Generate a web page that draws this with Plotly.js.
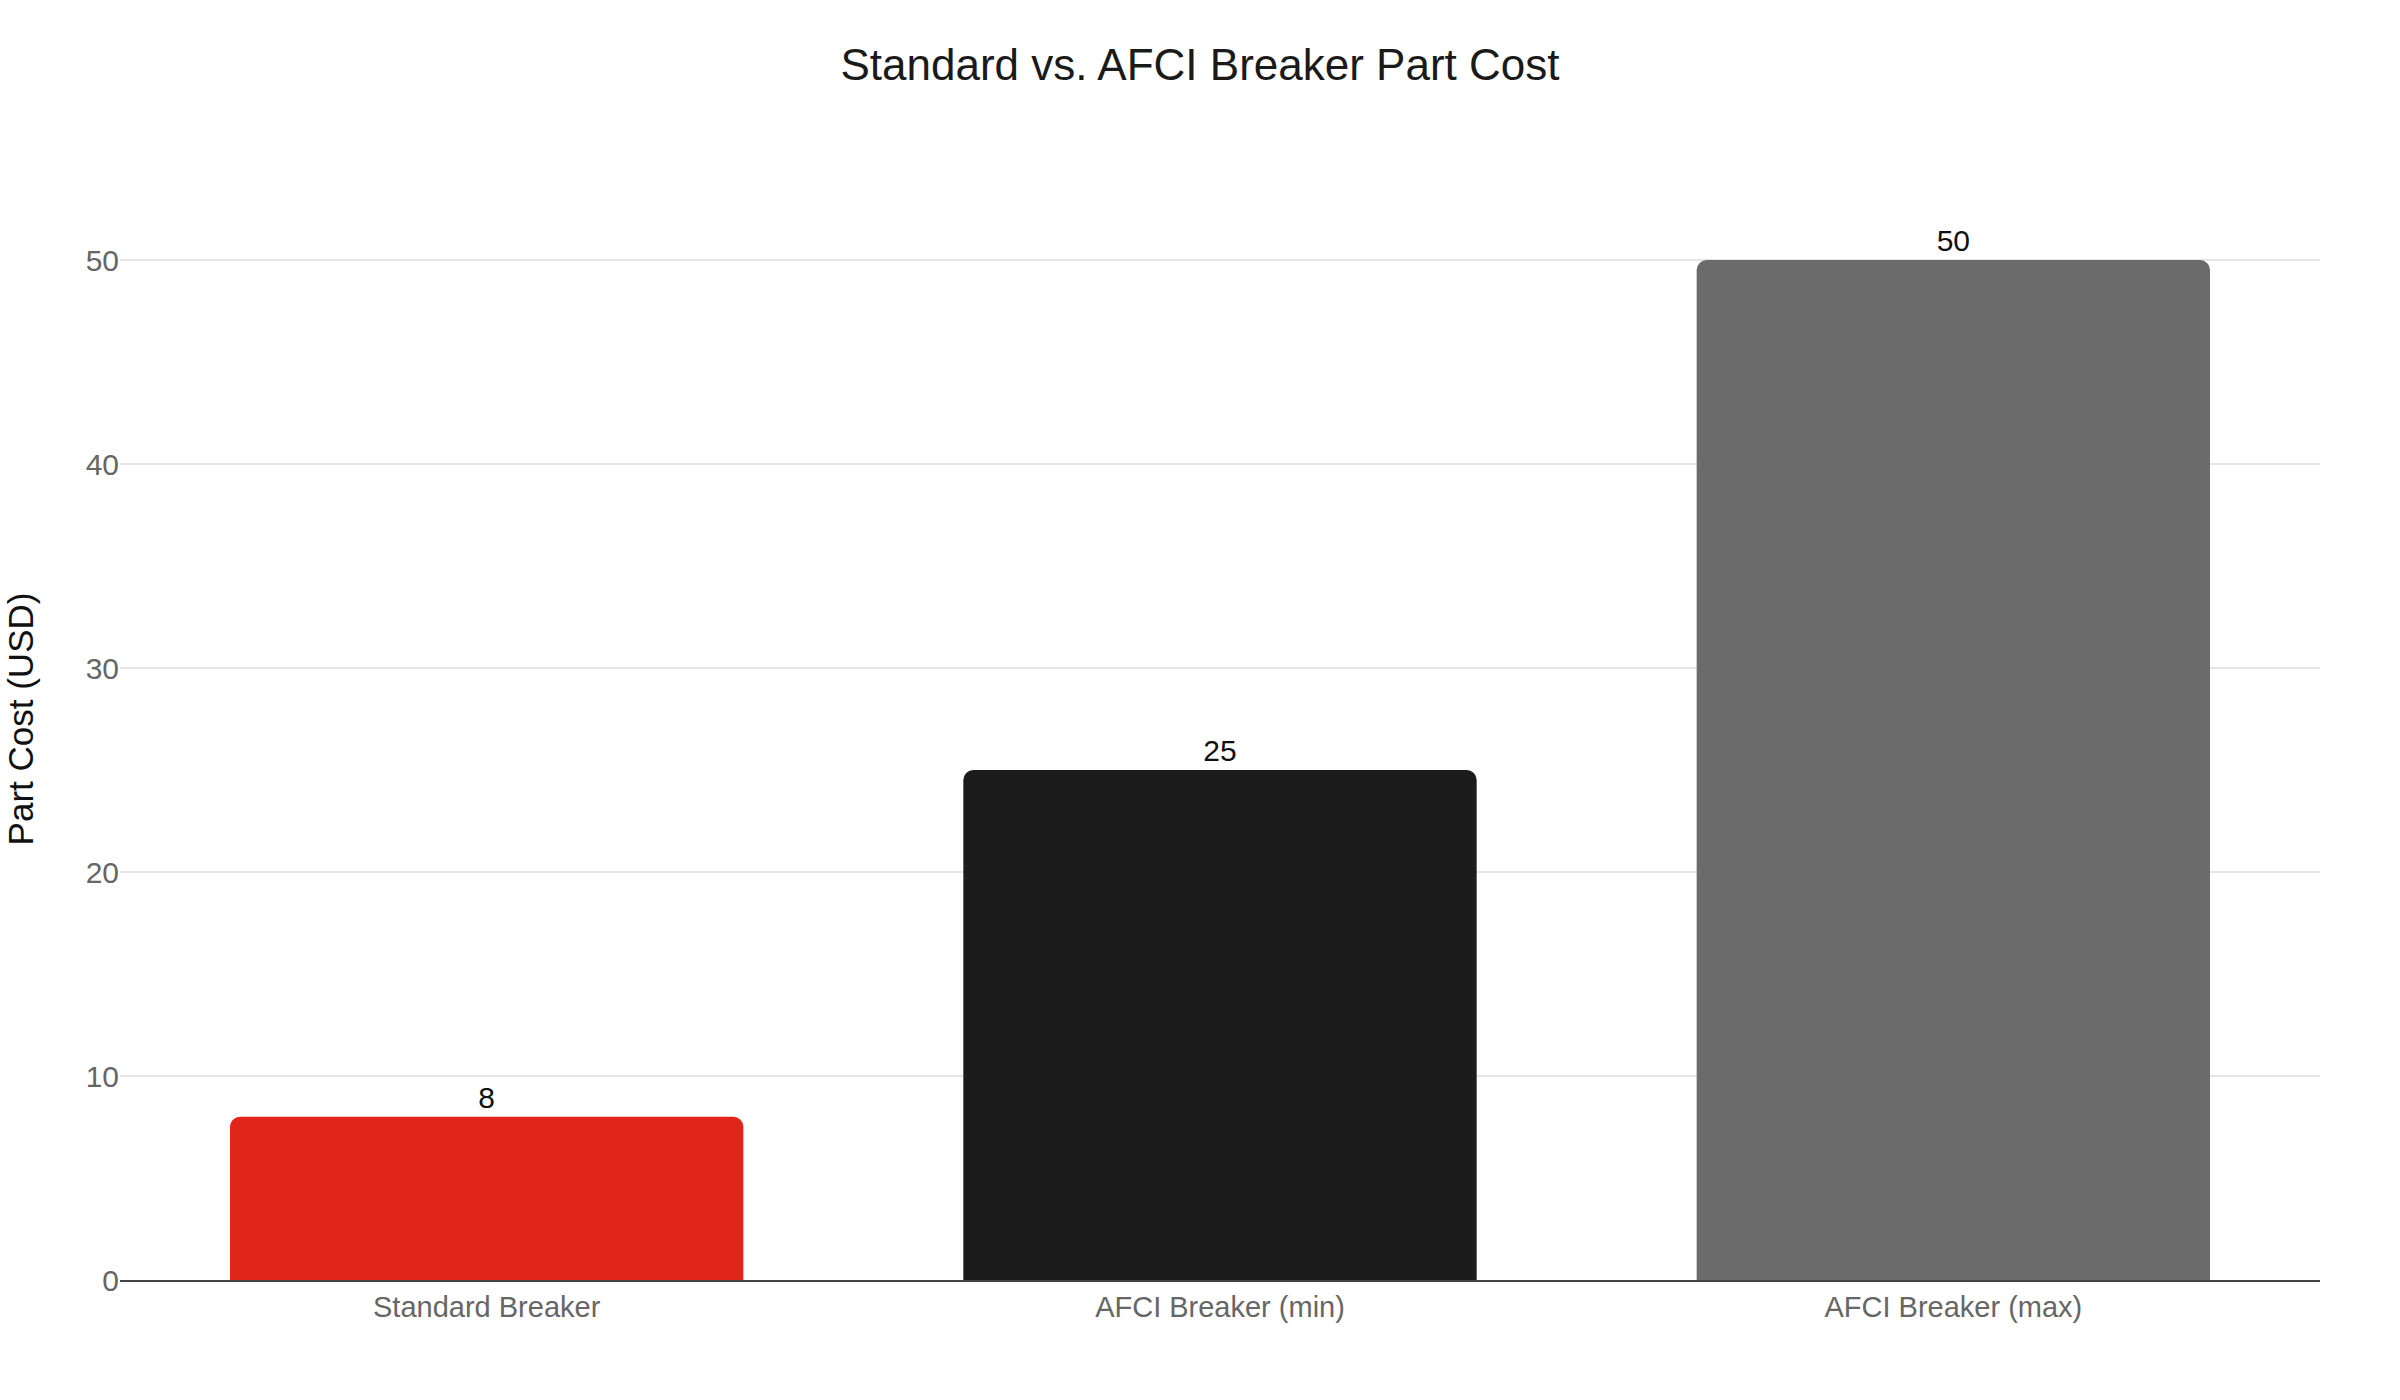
<!DOCTYPE html>
<html>
<head>
<meta charset="utf-8">
<script src="https://cdn.plot.ly/plotly-3.0.1.min.js"></script>
<style>
html,body{margin:0;padding:0;background:#fff;}
#chart{width:2400px;height:1400px;}
</style>
</head>
<body>
<div id="chart"></div>
<script>
var categories = ["Standard Breaker", "AFCI Breaker (min)", "AFCI Breaker (max)"];
var partCost = [8, 25, 50];
var barColors = ["#E1251B", "#1C1C1C", "#6B6B6B"];
var yTickVals = [0, 10, 20, 30, 40, 50];

var FONT = "'Liberation Sans', Arial, Helvetica, sans-serif";

var trace = {
  type: "bar",
  x: categories,
  y: partCost,
  marker: { color: barColors },
  text: partCost.map(String),
  textposition: "outside",
  textfont: { family: FONT, size: 30, color: "#111111" },
  cliponaxis: false,
  hoverinfo: "skip"
};

var layout = {
  width: 2400,
  height: 1400,
  paper_bgcolor: "#ffffff",
  plot_bgcolor: "#ffffff",
  font: { family: FONT, size: 30, color: "#222222" },
  title: {
    text: "Standard vs. AFCI Breaker Part Cost",
    font: { family: FONT, size: 44, color: "#1a1a1a" },
    x: 0.5, xanchor: "center",
    y: 1 - 65 / 1400, yanchor: "middle", yref: "container"
  },
  margin: { l: 120, r: 80, t: 158, b: 120 },
  bargap: 0.3,
  barcornerradius: 10,
  showlegend: false,
  xaxis: {
    type: "category",
    tickfont: { family: FONT, size: 29, color: "#666666" },
    showline: true, linecolor: "#444444", linewidth: 2,
    showgrid: false, zeroline: false, ticks: ""
  },
  yaxis: {
    title: { text: "Part Cost (USD)", font: { family: FONT, size: 35, color: "#111111" }, standoff: 41 },
    range: [0, 55],
    tickvals: yTickVals,
    tickfont: { family: FONT, size: 30, color: "#666666" },
    showgrid: true, gridcolor: "#e6e6e6", gridwidth: 2,
    zeroline: false, showline: false, ticks: ""
  }
};

Plotly.newPlot("chart", [trace], layout, { displayModeBar: false, staticPlot: true });
</script>
</body>
</html>
